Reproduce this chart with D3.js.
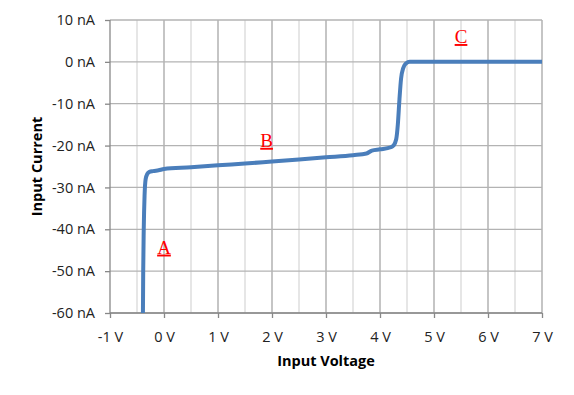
<!DOCTYPE html>
<html>
<head>
<meta charset="utf-8">
<script src="https://cdn.jsdelivr.net/npm/d3@7"></script>
<style>
  body { margin: 0; background: #fff; }
  text { font-family: "Open Sans", "Liberation Sans", sans-serif; }
</style>
</head>
<body>
<div id="chart"></div>
<script>
'use strict';

// curve: input voltage (V) vs input current (nA)
const voltage = [-0.39, -0.385, -0.375, -0.36, -0.34, -0.31, -0.27, -0.2, -0.1, 0,
  0.5, 1, 1.5, 2, 2.5, 3, 3.5, 3.75, 3.85, 4.0, 4.2, 4.25, 4.3, 4.33, 4.36,
  4.39, 4.43, 4.48, 4.55, 7];
const current = [-60, -50, -40, -32, -28, -26.8, -26.3, -26.1, -25.9, -25.6,
  -25.2, -24.7, -24.3, -23.8, -23.3, -22.8, -22.3, -21.9, -21.2, -20.9, -20.4,
  -20.0, -18.5, -15, -9, -4, -1.5, -0.4, 0, 0];

const xTicks = [-1, 0, 1, 2, 3, 4, 5, 6, 7];
const xMinor = [-0.5, 0.5, 1.5, 2.5, 3.5, 4.5, 5.5, 6.5];
const yTicks = [10, 0, -10, -20, -30, -40, -50, -60];

const regionLabels = ['A', 'B', 'C'];
const regionV = [0, 1.9, 5.5];
const regionI = [-45.8, -20.3, 4.5];

let width = 574, height = 395;
let margin = {top: 20, right: 32, bottom: 82, left: 110};

let svg = d3.select("#chart")
  .append("svg")
    .attr("width", width)
    .attr("height", height);

let x = d3.scaleLinear()
  .domain([-1, 7])
  .range([margin.left, width - margin.right]);

let y = d3.scaleLinear()
  .domain([-60, 10])
  .range([height - margin.bottom, margin.top]);

// minor vertical grid
svg.append("g").selectAll("line")
  .data(xMinor)
  .enter()
  .append("line")
  .attr("x1", d => x(d)).attr("x2", d => x(d))
  .attr("y1", y(10)).attr("y2", y(-60))
  .style("stroke", "#d9d9d9")
  .style("stroke-width", 1.3);

// major vertical grid
svg.append("g").selectAll("line")
  .data(xTicks.slice(1))
  .enter()
  .append("line")
  .attr("x1", d => x(d)).attr("x2", d => x(d))
  .attr("y1", y(10)).attr("y2", y(-60))
  .style("stroke", "#a6a6a6")
  .style("stroke-width", 1.3);

// horizontal grid
svg.append("g").selectAll("line")
  .data(yTicks)
  .enter()
  .append("line")
  .attr("x1", x(-1)).attr("x2", x(7))
  .attr("y1", d => y(d)).attr("y2", d => y(d))
  .style("stroke", "#b3b3b3")
  .style("stroke-width", 1.3);

// axes
let xAxis = svg.append("g")
  .attr("transform", "translate(0," + y(-60) + ")")
  .call(d3.axisBottom(x).tickValues(xTicks).tickSize(5).tickFormat(d => d + " V"));

let yAxis = svg.append("g")
  .attr("transform", "translate(" + x(-1) + ",0)")
  .call(d3.axisLeft(y).tickValues(yTicks).tickSize(5).tickFormat(d => d + " nA"));

[xAxis, yAxis].forEach(function(a) {
  a.selectAll("path, line").style("stroke", "#888").style("stroke-width", 1.3);
  a.selectAll("text")
    .style("font-size", "14.5px")
    .style("fill", "#222")
    .style("font-family", '"Open Sans", "Liberation Sans", sans-serif');
});
xAxis.select(".domain").attr("d", "M" + x(-1) + ",0H" + x(7));
yAxis.select(".domain").attr("d", "M0," + y(10) + "V" + y(-60));
xAxis.selectAll("text").attr("dy", "0.35em").attr("y", 24);
yAxis.selectAll("text").attr("x", -15);

// the curve
svg.append("path")
  .datum(current)
  .attr("d", d3.line()
    .x((d, i) => x(voltage[i]))
    .y(d => y(d))
    .curve(d3.curveMonotoneX))
  .style("fill", "none")
  .style("stroke", "#4a7ebb")
  .style("stroke-width", 4)
  .style("stroke-linejoin", "round");

// region labels
svg.append("g").selectAll("text")
  .data(regionLabels)
  .enter()
  .append("text")
  .attr("x", (d, i) => x(regionV[i]))
  .attr("y", (d, i) => y(regionI[i]))
  .attr("text-anchor", "middle")
  .style("font-family", '"Liberation Serif", "DejaVu Serif", serif')
  .style("font-size", "19px")
  .style("fill", "#ff0000")
  .style("text-decoration", "underline")
  .text(d => d);

// axis titles
svg.append("text")
  .attr("x", (x(-1) + x(7)) / 2)
  .attr("y", 366)
  .attr("text-anchor", "middle")
  .style("font-size", "14.5px")
  .style("font-weight", "bold")
  .text("Input Voltage");

svg.append("text")
  .attr("transform", "translate(42," + ((y(10) + y(-60)) / 2) + ") rotate(-90)")
  .attr("text-anchor", "middle")
  .style("font-size", "14.5px")
  .style("font-weight", "bold")
  .text("Input Current");
</script>
</body>
</html>
